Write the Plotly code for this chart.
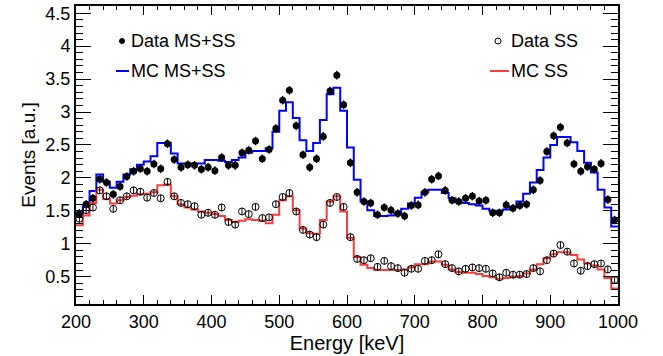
import plotly.graph_objects as go

# 10 keV bins from 200 to 1000 keV
bin_lo = 200
bin_width = 10
n_bins = 80
bin_centers = [bin_lo + bin_width * (i + 0.5) for i in range(n_bins)]
bin_edges = [bin_lo + bin_width * i for i in range(n_bins + 1)]

data_ms_ss = [1.46, 1.60, 1.69, 1.98, 1.93, 1.75, 1.87, 2.02, 2.10, 2.14,
              2.10, 2.21, 2.14, 2.52, 2.28, 2.16, 2.20, 2.19, 2.13, 2.16,
              2.11, 2.31, 2.19, 2.19, 2.38, 2.42, 2.56, 2.29, 2.43, 2.75,
              3.18, 3.33, 2.79, 2.35, 2.16, 2.29, 2.63, 3.32, 3.56, 3.11,
              2.23, 1.78, 1.64, 1.62, 1.44, 1.55, 1.51, 1.46, 1.42, 1.58,
              1.59, 1.78, 1.98, 2.03, 1.81, 1.66, 1.64, 1.69, 1.72, 1.65,
              1.66, 1.47, 1.47, 1.59, 1.54, 1.58, 1.60, 1.82, 1.96, 2.40,
              2.64, 2.77, 2.53, 2.21, 2.10, 2.17, 2.13, 2.22, 1.67, 1.36]

mc_ms_ss = [1.42, 1.57, 1.80, 2.05, 1.94, 1.85, 1.94, 2.05, 2.13, 2.20,
            2.25, 2.33, 2.53, 2.53, 2.37, 2.22, 2.22, 2.22, 2.22, 2.27,
            2.27, 2.26, 2.24, 2.27, 2.31, 2.38, 2.41, 2.41, 2.45, 2.70,
            3.02, 3.15, 2.91, 2.57, 2.41, 2.53, 2.88, 3.27, 3.37, 3.02,
            2.46, 1.97, 1.64, 1.51, 1.42, 1.42, 1.43, 1.46, 1.53, 1.61,
            1.70, 1.78, 1.82, 1.82, 1.77, 1.69, 1.63, 1.62, 1.60, 1.58,
            1.53, 1.50, 1.50, 1.52, 1.56, 1.64, 1.76, 1.93, 2.12, 2.31,
            2.50, 2.62, 2.62, 2.54, 2.41, 2.23, 2.08, 1.82, 1.55, 1.26]

data_ss = [1.38, 1.51, 1.55, 1.81, 1.72, 1.53, 1.66, 1.72, 1.81, 1.79,
           1.70, 1.77, 1.69, 1.94, 1.72, 1.62, 1.60, 1.57, 1.44, 1.47,
           1.44, 1.55, 1.33, 1.29, 1.49, 1.45, 1.56, 1.39, 1.40, 1.60,
           1.71, 1.77, 1.49, 1.21, 1.14, 1.10, 1.29, 1.62, 1.71, 1.56,
           1.10, 0.77, 0.75, 0.78, 0.65, 0.74, 0.66, 0.63, 0.56, 0.62,
           0.62, 0.74, 0.75, 0.84, 0.69, 0.63, 0.58, 0.62, 0.64, 0.63,
           0.62, 0.55, 0.49, 0.56, 0.53, 0.53, 0.54, 0.63, 0.58, 0.75,
           0.85, 0.98, 0.88, 0.70, 0.59, 0.66, 0.69, 0.70, 0.61, 0.45]

mc_ss = [1.28, 1.43, 1.62, 1.82, 1.68, 1.61, 1.66, 1.71, 1.73, 1.75,
         1.76, 1.78, 1.89, 1.90, 1.72, 1.60, 1.55, 1.52, 1.49, 1.47,
         1.45, 1.42, 1.36, 1.33, 1.35, 1.37, 1.36, 1.35, 1.31, 1.44,
         1.66, 1.72, 1.51, 1.23, 1.16, 1.15, 1.36, 1.64, 1.72, 1.49,
         1.09, 0.80, 0.68, 0.63, 0.60, 0.60, 0.60, 0.60, 0.61, 0.64,
         0.69, 0.69, 0.73, 0.73, 0.68, 0.61, 0.57, 0.56, 0.56, 0.54,
         0.51, 0.49, 0.47, 0.48, 0.50, 0.51, 0.55, 0.61, 0.69, 0.78,
         0.84, 0.87, 0.87, 0.83, 0.76, 0.70, 0.67, 0.61, 0.48, 0.32]

err_ms_ss = 0.065
err_ss = 0.055

x_ticks = [200, 300, 400, 500, 600, 700, 800, 900, 1000]
y_ticks = [0.5, 1, 1.5, 2, 2.5, 3, 3.5, 4, 4.5]

BLUE = "#0000ff"
RED = "#ff3c3c"
FONT = "Liberation Sans, Arial, Helvetica, sans-serif"

fig = go.Figure()

fig.add_trace(go.Scatter(x=bin_edges, y=mc_ms_ss + [mc_ms_ss[-1]], mode="lines",
                         line=dict(color=BLUE, width=2, shape="hv"), name="MC MS+SS"))
fig.add_trace(go.Scatter(x=bin_edges, y=mc_ss + [mc_ss[-1]], mode="lines",
                         line=dict(color=RED, width=2, shape="hv"), name="MC SS"))
fig.add_trace(go.Scatter(x=bin_centers, y=data_ss, mode="markers",
                         marker=dict(symbol="circle-open", size=7, color="black",
                                     line=dict(width=1, color="black")),
                         error_y=dict(type="constant", value=err_ss, color="black",
                                      thickness=1, width=0),
                         name="Data SS"))
fig.add_trace(go.Scatter(x=bin_centers, y=data_ms_ss, mode="markers",
                         marker=dict(symbol="circle", size=7, color="black"),
                         error_y=dict(type="constant", value=err_ms_ss, color="black",
                                      thickness=1.3, width=0),
                         name="Data MS+SS"))

# legend drawn manually in two columns (paper coordinates)
px_l, px_r, px_t, px_b = 76, 618, 6, 304
def px2paper(x, y):
    return (x - px_l) / (px_r - px_l), (px_b - y) / (px_b - px_t)

legend_items = [
    ("marker_filled", "Data MS+SS", 131, 41, 122),
    ("line_blue", "MC MS+SS", 131, 71, 116),
    ("marker_open", "Data SS", 511, 41, 498),
    ("line_red", "MC SS", 511, 71, 490),
]
for kind, label, tx, ty, sx in legend_items:
    lx, ly = px2paper(tx, ty)
    fig.add_annotation(x=lx, y=ly, xref="paper", yref="paper", text=label,
                       showarrow=False, xanchor="left", yanchor="middle", xshift=-2,
                       font=dict(family=FONT, size=18, color="black"))
    if kind in ("marker_filled", "marker_open"):
        r = 2.5 if kind == "marker_filled" else 3
        cx0, cy0 = px2paper(sx - r, ty - r)
        cx1, cy1 = px2paper(sx + r, ty + r)
        fig.add_shape(type="circle", xref="paper", yref="paper",
                      x0=cx0, x1=cx1, y0=cy1, y1=cy0,
                      fillcolor="black" if kind == "marker_filled" else "white",
                      line=dict(color="black", width=1))
    else:
        col = BLUE if kind == "line_blue" else RED
        lx0, _ = px2paper(sx, ty)
        lx1, _ = px2paper(tx - 2, ty)
        fig.add_shape(type="line", xref="paper", yref="paper",
                      x0=lx0, x1=lx1, y0=ly, y1=ly,
                      line=dict(color=col, width=2))

fig.update_layout(
    width=663, height=356,
    margin=dict(l=76, r=45, t=6, b=52, autoexpand=False),
    paper_bgcolor="white", plot_bgcolor="white",
    showlegend=False,
    font=dict(family=FONT, size=18, color="black"),
)
fig.update_xaxes(
    range=[200, 1000], tickvals=x_ticks, ticktext=[str(v) for v in x_ticks],
    ticks="inside", ticklen=9, tickwidth=1, tickcolor="black",
    minor=dict(ticks="inside", ticklen=4, dtick=20, tickcolor="black", tickwidth=1),
    showline=True, linecolor="black", linewidth=2, mirror="ticks",
    showgrid=False, zeroline=False, automargin=False,
    title=dict(text="Energy [keV]", font=dict(size=20), standoff=0),
    tickfont=dict(size=18),
)
fig.update_yaxes(
    range=[0.085, 4.61], tickvals=y_ticks, ticktext=[f"{v:g}" for v in y_ticks],
    ticks="inside", ticklen=15, tickwidth=1, tickcolor="black",
    minor=dict(ticks="inside", ticklen=7, dtick=0.1, tickcolor="black", tickwidth=1),
    showline=True, linecolor="black", linewidth=2, mirror="ticks",
    showgrid=False, zeroline=False, automargin=False,
    title=dict(text="Events [a.u.]", font=dict(size=19), standoff=5),
    tickfont=dict(size=18),
)

fig.write_html("out.html",
               config={"displayModeBar": False},
               post_script="document.body.style.margin='0px';document.body.style.padding='0px';")
